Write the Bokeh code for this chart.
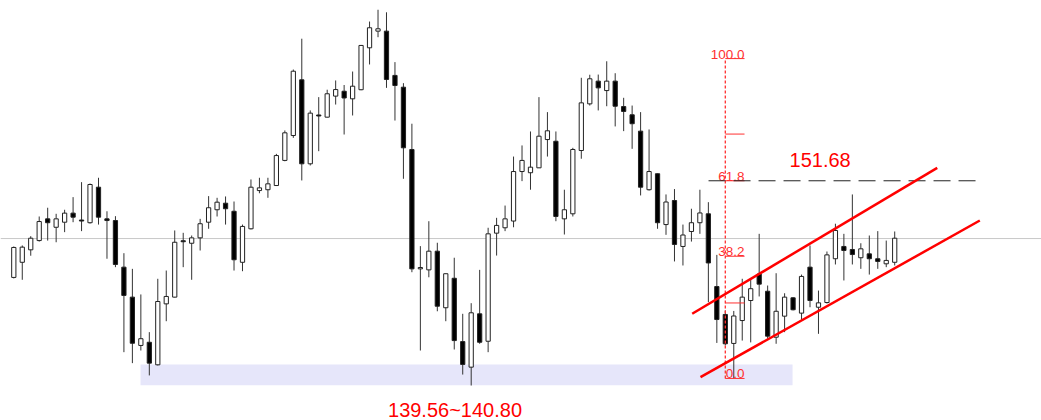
from bokeh.plotting import figure
from bokeh.models import ColumnDataSource, Range1d, Span, BoxAnnotation
from bokeh.embed import file_html
from bokeh.resources import INLINE
from bokeh.core.properties import value

# ---- candle data (price) ----
opens = [145.97, 146.87, 147.61, 148.16, 149.45, 148.95, 149.25, 149.79, 149.38, 149.22,
         151.33, 149.45, 149.35, 146.58, 144.80, 141.93, 142.12, 140.78, 144.40, 144.80,
         148.15, 148.00, 148.32, 149.25, 149.99, 150.38, 149.90, 146.87, 148.86, 151.13,
         151.18, 151.43, 152.92, 154.40, 157.71, 152.72, 155.62, 155.49, 156.74, 157.03,
         156.58, 157.12, 159.61, 160.60, 160.60, 157.97, 157.27, 153.57, 146.48, 146.42,
         147.53, 144.17, 145.92, 142.16, 140.64, 143.81, 142.18, 148.60, 148.92, 149.32,
         152.26, 152.19, 152.48, 154.16, 154.06, 149.45, 149.75, 153.51, 156.28, 157.63,
         157.07, 157.63, 156.12, 155.63, 154.66, 151.18, 152.13, 149.11, 150.54, 147.81,
         148.70, 149.22, 149.75, 145.43, 143.77, 142.05, 143.41, 144.60, 146.17, 145.15,
         142.42, 143.67, 144.76, 143.85, 146.58, 144.20, 144.48, 147.08, 147.81, 147.63,
         147.14, 147.37, 147.08, 146.78, 146.87]
highs = [147.81, 147.87, 148.42, 149.59, 150.11, 149.75, 149.99, 150.74, 151.63, 151.55,
         151.89, 149.90, 149.61, 147.41, 146.48, 144.96, 142.72, 145.89, 146.38, 148.76,
         148.62, 148.46, 149.45, 150.80, 150.70, 150.78, 150.48, 149.11, 151.79, 151.89,
         151.89, 153.31, 154.70, 158.32, 160.15, 155.89, 156.68, 157.12, 157.67, 157.40,
         158.20, 159.78, 161.17, 161.87, 161.72, 158.76, 157.51, 155.10, 147.83, 149.31,
         148.03, 146.20, 147.14, 143.81, 144.44, 146.42, 148.92, 149.51, 150.24, 153.15,
         153.81, 154.64, 156.68, 155.79, 154.64, 151.18, 153.67, 157.83, 158.01, 158.02,
         158.81, 158.10, 156.64, 156.18, 155.79, 154.76, 152.14, 150.90, 151.22, 149.11,
         150.05, 151.18, 150.44, 147.31, 144.01, 143.98, 145.89, 145.85, 148.56, 145.49,
         146.22, 145.03, 144.80, 146.14, 147.87, 145.19, 147.51, 149.16, 148.56, 150.90,
         148.00, 148.46, 148.72, 148.16, 148.70]
lows = [145.91, 145.83, 147.26, 148.10, 148.16, 148.06, 148.66, 149.25, 148.72, 149.17,
        149.11, 147.08, 146.58, 141.53, 140.88, 141.63, 140.15, 140.74, 143.37, 144.78,
        146.58, 145.83, 147.57, 148.86, 149.59, 149.11, 146.38, 146.34, 148.82, 150.97,
        150.70, 151.40, 152.87, 154.26, 151.73, 152.62, 153.47, 155.47, 156.24, 154.46,
        155.59, 157.09, 158.62, 160.24, 157.23, 155.29, 151.83, 146.28, 141.63, 145.98,
        143.96, 143.37, 141.69, 140.20, 139.55, 142.03, 141.53, 147.27, 148.72, 148.95,
        151.69, 151.18, 152.47, 153.15, 149.31, 148.52, 149.59, 153.02, 156.18, 155.89,
        156.14, 154.94, 154.66, 153.61, 150.84, 151.13, 148.86, 148.50, 146.92, 146.68,
        148.10, 148.56, 144.50, 142.08, 141.93, 139.97, 142.22, 142.11, 144.84, 142.33,
        142.03, 142.72, 144.01, 143.45, 144.20, 142.62, 144.42, 146.74, 145.79, 146.74,
        146.48, 146.14, 146.48, 146.58, 146.68]
closes = [147.75, 147.77, 148.30, 149.29, 149.22, 149.45, 149.79, 149.55, 149.32, 151.49,
          149.55, 149.35, 146.74, 144.90, 142.06, 142.33, 140.88, 144.54, 144.84, 148.06,
          148.09, 148.32, 149.16, 150.11, 150.44, 150.05, 147.02, 149.00, 151.33, 151.29,
          151.53, 153.21, 154.56, 158.22, 152.72, 155.73, 155.56, 156.88, 157.13, 156.63,
          157.33, 159.75, 160.80, 160.74, 157.73, 157.37, 153.67, 146.48, 146.56, 147.53,
          144.26, 146.19, 142.22, 140.80, 143.87, 142.12, 148.56, 149.06, 149.45, 152.26,
          152.92, 152.52, 154.36, 154.68, 149.59, 149.99, 153.57, 156.34, 157.77, 157.23,
          157.63, 156.14, 155.83, 155.10, 151.33, 152.26, 149.22, 150.45, 147.93, 148.49,
          149.22, 149.80, 146.83, 143.47, 142.03, 143.68, 144.80, 145.30, 145.57, 142.48,
          143.96, 144.80, 144.05, 146.03, 144.60, 144.46, 147.31, 148.76, 147.57, 147.33,
          147.67, 147.08, 146.92, 146.98, 148.30]
bar_index = list(range(len(opens)))

# ---- annotation values ----
reference_price = 148.28
support_zone = [139.56, 140.80]
support_zone_bars = [14.96, 91.94]
fib_bar = 84
fib_tick_end = 86.27
fib_low, fib_high = 139.97, 158.97
fib_levels = [0.0, 23.6, 38.2, 61.8, 76.4, 100.0]
fib_labelled = [100.0, 61.8, 38.2, 0.0]
fib_label_text = ["100.0", "61.8", "38.2", "0.0"]
target_line_bars = [82.02, 113.9]
channel_upper_x = [80.09, 109.02]
channel_upper_y = [143.81, 152.48]
channel_lower_x = [81.07, 114.05]
channel_lower_y = [140.05, 149.35]
target_label = "151.68"
target_label_pos = [91.58, 152.92]
zone_label = "139.56~140.80"
zone_label_pos = [52.09, 138.07]

FONT = "Liberation Sans"

fill = ["white" if c >= o else "black" for o, c in zip(opens, closes)]
src = ColumnDataSource(dict(x=bar_index, o=opens, h=highs, l=lows, c=closes,
                            top=[max(o, c) for o, c in zip(opens, closes)],
                            bottom=[min(o, c) for o, c in zip(opens, closes)],
                            fill=fill))

p = figure(width=1041, height=420, output_backend="svg", toolbar_location=None,
           x_range=Range1d(-1.570, 121.33), y_range=Range1d(137.472, 162.42),
           x_axis_location=None, y_axis_location=None, min_border=0)
p.xgrid.visible = False
p.ygrid.visible = False
p.outline_line_color = None
p.background_fill_color = "white"

# support band
p.add_layout(BoxAnnotation(left=support_zone_bars[0], right=support_zone_bars[1],
                           bottom=support_zone[0], top=support_zone[1],
                           fill_color="#e6e6fa", fill_alpha=1.0, line_color=None,
                           level="underlay"))
# gray reference line
p.add_layout(Span(location=reference_price, dimension="width", line_color="#c8c8c8",
                  line_width=1, level="underlay"))

# candles
p.segment(x0="x", x1="x", y0="h", y1="l", source=src, line_color="#333333", line_width=1)
p.vbar(x="x", width=0.5, top="top", bottom="bottom", source=src,
       fill_color="fill", line_color="#222222", line_width=1)

# fibonacci
rng = fib_high - fib_low
fib_prices = [fib_low + rng * lv / 100 for lv in fib_levels]
p.segment(x0=[fib_bar] * len(fib_prices), x1=[fib_tick_end] * len(fib_prices),
          y0=fib_prices, y1=fib_prices, line_color="#ff3030", line_width=1)
p.segment(x0=[fib_bar], x1=[fib_bar], y0=[fib_low], y1=[fib_high],
          line_color="#ff3030", line_width=1.3, line_dash="3 2")
p.text(x=[fib_tick_end] * len(fib_labelled),
       y=[fib_low + rng * lv / 100 for lv in fib_labelled],
       text=fib_label_text, text_font=value(FONT), text_font_size="13.5px",
       text_color="#ff3030", text_align="right", text_baseline="bottom")

# 61.8 target dashed line
target_price = fib_low + rng * 61.8 / 100
p.line(x=target_line_bars, y=[target_price, target_price], line_color="#222222",
       line_width=1, line_dash="17 8")

# channel
p.line(x=channel_upper_x, y=channel_upper_y, line_color="#ff0000", line_width=2.5)
p.line(x=channel_lower_x, y=channel_lower_y, line_color="#ff0000", line_width=2.5)

# labels
p.text(x=[target_label_pos[0]], y=[target_label_pos[1]], text=[target_label],
       text_font=value(FONT), text_font_size="20px", text_color="#ff0000",
       text_align="left", text_baseline="middle")
p.text(x=[zone_label_pos[0]], y=[zone_label_pos[1]], text=[zone_label],
       text_font=value(FONT), text_font_size="20px", text_color="#ff0000",
       text_align="center", text_baseline="middle")

open("out.html", "w").write(file_html(p, INLINE))
